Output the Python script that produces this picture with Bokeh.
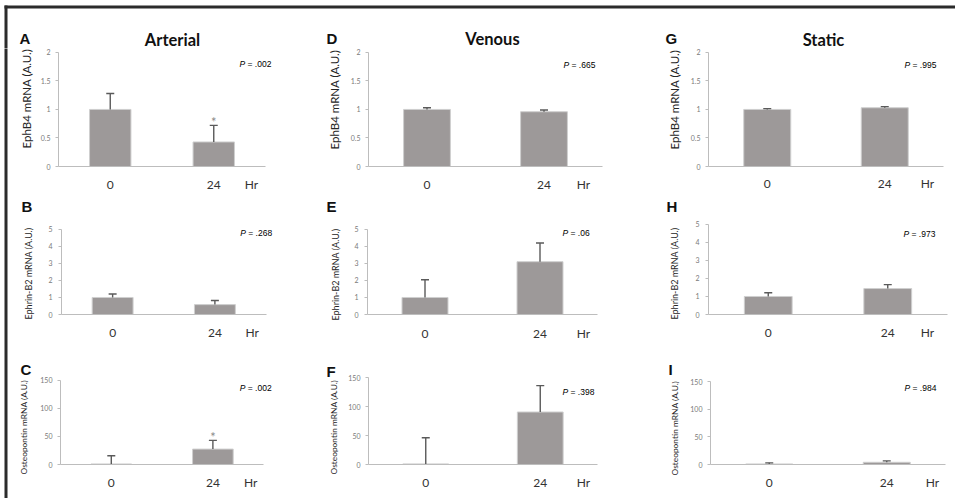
import math
from bokeh.plotting import figure
from bokeh.models import (ColumnDataSource, Range1d, Whisker, TeeHead, Title, BoxAnnotation,
                          Label, FixedTicker, PrintfTickFormatter)
from bokeh.layouts import column, row
from bokeh.embed import file_html
from bokeh.resources import INLINE

# ---------------- data ----------------
times = ["0", "24"]
time_unit = "Hr"
conditions = ["Arterial", "Venous", "Static"]
genes = ["EphB4", "Ephrin-B2", "Osteopontin"]
gene_axis_titles = ["EphB4  mRNA (A.U.)", "Ephrin-B2  mRNA (A.U.)", "Osteopontin  mRNA (A.U.)"]
gene_ymax = [2, 5, 150]
gene_ticks = [[0, 0.5, 1, 1.5, 2], [0, 1, 2, 3, 4, 5], [0, 50, 100, 150]]

arterial_ephb4 = [1.00, 0.43]
arterial_ephb4_err = [0.28, 0.29]
arterial_ephrinb2 = [1.00, 0.58]
arterial_ephrinb2_err = [0.20, 0.24]
arterial_opn = [1.0, 27.5]
arterial_opn_err = [14.5, 15.5]

venous_ephb4 = [1.00, 0.96]
venous_ephb4_err = [0.03, 0.03]
venous_ephrinb2 = [1.00, 3.10]
venous_ephrinb2_err = [1.04, 1.10]
venous_opn = [1.0, 90.5]
venous_opn_err = [45.0, 45.5]

static_ephb4 = [1.00, 1.03]
static_ephb4_err = [0.015, 0.02]
static_ephrinb2 = [1.00, 1.44]
static_ephrinb2_err = [0.21, 0.22]
static_opn = [1.0, 4.0]
static_opn_err = [2.0, 2.5]

arterial_p = [".002", ".268", ".002"]
venous_p = [".665", ".06", ".398"]
static_p = [".995", ".973", ".984"]

arterial_sig = [[False, True], [False, False], [False, True]]
venous_sig = [[False, False], [False, False], [False, False]]
static_sig = [[False, False], [False, False], [False, False]]

arterial_letters = ["A", "B", "C"]
venous_letters = ["D", "E", "F"]
static_letters = ["G", "H", "I"]

VALS = {"Arterial": [arterial_ephb4, arterial_ephrinb2, arterial_opn],
        "Venous": [venous_ephb4, venous_ephrinb2, venous_opn],
        "Static": [static_ephb4, static_ephrinb2, static_opn]}
ERRS = {"Arterial": [arterial_ephb4_err, arterial_ephrinb2_err, arterial_opn_err],
        "Venous": [venous_ephb4_err, venous_ephrinb2_err, venous_opn_err],
        "Static": [static_ephb4_err, static_ephrinb2_err, static_opn_err]}
PVALS = {"Arterial": arterial_p, "Venous": venous_p, "Static": static_p}
SIGS = {"Arterial": arterial_sig, "Venous": venous_sig, "Static": static_sig}
LETTERS = {"Arterial": arterial_letters, "Venous": venous_letters, "Static": static_letters}

# ---------------- layout (window pixels) ----------------
PAGE_W = 955
PAGE_H = 498
COL_X = [8, 310, 630, 949]
ROW_Y = [48, 194, 345, 492]
# axes [gene][condition] = (y-axis x, x-axis end x, top tick y, baseline y)
AXES = [
    [(58, 265, 52, 169), (368, 602, 52, 169), (708, 943, 52, 169)],
    [(58, 265, 229, 315), (367, 597, 228, 314), (708, 947, 223, 314)],
    [(59, 263, 378, 465), (368, 597, 370, 465), (710, 945, 381, 464)],
]
LETTER_POS = [[(19, 38), (326, 38), (665, 38)],
              [(18, 211), (326, 210), (666, 210)],
              [(19, 372), (326, 369), (668, 374)]]
TITLE_POS = [(172, 39), (492, 38), (823, 39)]
XLAB_BASE = [[191, 191, 190], [337, 337, 336], [487, 487, 486]]
HR_X = [[251, 583, 927], [251, 583, 927], [250, 583, 932]]
P_POS = [[(239, 64), (563, 65), (904, 65)],
         [(239, 233), (562, 232), (903, 233)],
         [(239, 386), (562, 386), (904, 387)]]
# y title: (visual centre x, bottom end y)
YLAB_POS = [[(30, 151), (338, 152), (678, 152)],
            [(28.5, 320), (339, 320), (678, 319)],
            [(26, 475), (337, 475), (678, 475)]]
YLAB_SIZE = [11.5, 9, 8.4]
YTICK_STANDOFF = [5, 6, 5]
YTICK_W = [9.7, 4.1, 12.2]   # estimated widest tick label, px
AST_SIZE = 13

BAR_FILL = "#9d9999"
BAR_LINE = "#cfcfcf"
ERR_COL = "#5a5a5a"
AXIS_COL = "#bdbdbd"
FRAME_COL = "#2b2b2b"
SANS = "Lato"
ARIAL = "Liberation Sans"


def make_panel(ci, gi):
    cond = conditions[ci]
    vals = VALS[cond][gi]
    errs = ERRS[cond][gi]
    fl, ar, ft, fb = AXES[gi][ci]
    x0, x1 = COL_X[ci], COL_X[ci + 1]
    y0, y1 = ROW_Y[gi], ROW_Y[gi + 1]
    ymax = gene_ymax[gi]
    fr = x1 - 1

    # extended frame top
    if gi == 0:
        f_top = y0
        letter_standoff = None
    else:
        lx_, lb_ = LETTER_POS[gi][ci]
        desc = 0.212 * 15
        f_top = int(min(ft, math.floor(lb_ + desc)))
        letter_standoff = 2 * (f_top - (lb_ + desc))

    unit = (ar - fl) / len(times)
    x_start = -0.5
    x_end = x_start + (fr - fl) / unit
    y_end = ymax * (fb - f_top) / (fb - ft)

    def dx(px):
        return x_start + (px - fl) / unit

    def dy(py):
        return (fb - py) / (fb - ft) * ymax

    p = figure(width=x1 - x0, height=y1 - y0, title=None,
               x_range=Range1d(x_start, x_end), y_range=Range1d(0, y_end),
               min_border_left=fl - x0, min_border_right=x1 - fr,
               min_border_top=f_top - y0, min_border_bottom=y1 - fb,
               toolbar_location=None, output_backend="svg",
               outline_line_color=None, background_fill_color="white",
               border_fill_color="white")
    p.xgrid.visible = False
    p.ygrid.visible = False

    xi = list(range(len(times)))
    up = [v + e for v, e in zip(vals, errs)]
    src = ColumnDataSource(dict(xi=xi, t=times, v=vals, up=up))
    p.vbar(x="xi", top="v", width=0.4, source=src, fill_color=BAR_FILL,
           line_color=BAR_LINE, line_width=1)
    wk = Whisker(base="xi", upper="up", lower="v", source=src, line_color=ERR_COL,
                 line_width=1.4, lower_head=None,
                 upper_head=TeeHead(size=8, line_color=ERR_COL, line_width=1.4),
                 level="annotation")
    p.add_layout(wk)

    # x axis: categories + unit label as a tick
    hr_tick = dx(HR_X[gi][ci])
    xa = p.xaxis[0]
    xa.ticker = FixedTicker(ticks=xi + [hr_tick])
    overrides = {i: t for i, t in zip(xi, times)}
    overrides[hr_tick] = time_unit
    xa.major_label_overrides = overrides
    xa.bounds = (x_start, x_start + len(times))
    xa.axis_line_color = AXIS_COL
    xa.major_tick_line_color = None
    xa.minor_tick_line_color = None
    xa.major_tick_out = 0
    xa.major_tick_in = 0
    xa.minor_tick_out = 0
    xa.minor_tick_in = 0
    xa.major_label_text_font = SANS
    xa.major_label_text_font_size = "12px"
    xa.major_label_text_color = "#333333"
    xa.major_label_standoff = int(round(XLAB_BASE[gi][ci] - 0.987 * 12 - fb))

    ya = p.yaxis[0]
    ya.ticker = FixedTicker(ticks=gene_ticks[gi])
    ya.formatter = PrintfTickFormatter(format="%g")
    ya.bounds = (0, ymax)
    ya.axis_line_color = AXIS_COL
    ya.major_tick_line_color = AXIS_COL
    ya.major_tick_out = 3
    ya.major_tick_in = 0
    ya.minor_tick_out = 0
    ya.minor_tick_in = 0
    ya.minor_tick_line_color = None
    ya.major_label_text_font = SANS
    ya.major_label_text_font_size = "7px"
    ya.major_label_text_color = "#7a7a7a"
    ya.major_label_standoff = YTICK_STANDOFF[gi]

    # y axis title as a left-side Title
    vx, bottom_end = YLAB_POS[gi][ci]
    fs = YLAB_SIZE[gi]
    axis_left = fl - (3 + YTICK_STANDOFF[gi] + YTICK_W[gi])
    box_bottom = vx + 0.5 * fs
    yt = Title(text=gene_axis_titles[gi], align="left", vertical_align="bottom",
               offset=fb - bottom_end, standoff=max(0.0, 2 * (axis_left - box_bottom)),
               text_font=SANS, text_font_size=f"{fs}px", text_font_style="normal",
               text_color="#262626")
    p.add_layout(yt, "left")

    # panel letter (rows 2 and 3) as an above Title
    if gi > 0:
        lx_, lb_ = LETTER_POS[gi][ci]
        lt = Title(text=LETTERS[cond][gi], align="left", vertical_align="bottom",
                   offset=lx_ - fl, standoff=letter_standoff,
                   text_font=ARIAL, text_font_size="15px", text_font_style="bold",
                   text_color="#111111")
        p.add_layout(lt, "above")

    # P value
    ppx, ppy = P_POS[gi][ci]
    p.add_layout(Label(x=dx(ppx), y=dy(ppy), text="P", text_align="left",
                       text_baseline="alphabetic", text_font=ARIAL, text_font_style="italic",
                       text_font_size="8.5px", text_color="#000000"))
    p.add_layout(Label(x=dx(ppx + 8), y=dy(ppy), text="= " + PVALS[cond][gi], text_align="left",
                       text_baseline="alphabetic", text_font=ARIAL,
                       text_font_size="8.5px", text_color="#000000"))
    # significance asterisks
    for k, s in enumerate(SIGS[cond][gi]):
        if s:
            top_px = fb - (up[k] / ymax) * (fb - ft)
            centre = top_px - 7
            p.add_layout(Label(x=xi[k], y=dy(centre + 0.62 * AST_SIZE - 5), text="*",
                               text_align="center", text_baseline="alphabetic",
                               text_font=SANS, text_font_size=f"{AST_SIZE}px",
                               text_color="#8a8a8a"))
    return p


# header: outer frame corner, panel letters and condition titles of the first row
HH = ROW_Y[0]
header = figure(width=PAGE_W, height=HH,
                x_range=Range1d(0, PAGE_W), y_range=Range1d(0, HH),
                x_axis_location=None, y_axis_location=None, toolbar_location=None,
                output_backend="svg", title=None, min_border=0,
                outline_line_color=None, background_fill_color="white",
                border_fill_color="white")
header.grid.visible = False
header.add_layout(BoxAnnotation(left=4, right=PAGE_W, bottom=HH - 8, top=HH - 5,
                                fill_color=FRAME_COL, fill_alpha=1, line_color=None))
header.add_layout(BoxAnnotation(left=4, right=7, bottom=0, top=HH - 5,
                                fill_color=FRAME_COL, fill_alpha=1, line_color=None))
for ci, cond in enumerate(conditions):
    lx_, lb_ = LETTER_POS[0][ci]
    header.add_layout(Label(x=lx_, y=HH - lb_, text=LETTERS[cond][0], text_align="left",
                            text_baseline="alphabetic", text_font=ARIAL,
                            text_font_style="bold", text_font_size="15px",
                            text_color="#111111"))
    tx, tb = TITLE_POS[ci]
    header.add_layout(Label(x=tx, y=HH - tb, text=cond, text_align="center",
                            text_baseline="alphabetic", text_font=SANS,
                            text_font_style="bold", text_font_size="16.5px",
                            text_color="#111111"))

left_strip = figure(width=COL_X[0], height=PAGE_H - HH, x_axis_location=None,
                    y_axis_location=None, toolbar_location=None, output_backend="svg",
                    title=None, min_border_left=4, min_border_right=1,
                    min_border_top=0, min_border_bottom=0, outline_line_color=None,
                    background_fill_color=FRAME_COL, border_fill_color="white")
left_strip.grid.visible = False

panel_rows = [row(*[make_panel(ci, gi) for ci in range(3)], spacing=0) for gi in range(3)]
grid = column(*panel_rows, spacing=0)
layout = column(header, row(left_strip, grid, spacing=0), spacing=0)

open("out.html", "w").write(file_html(layout, INLINE))
